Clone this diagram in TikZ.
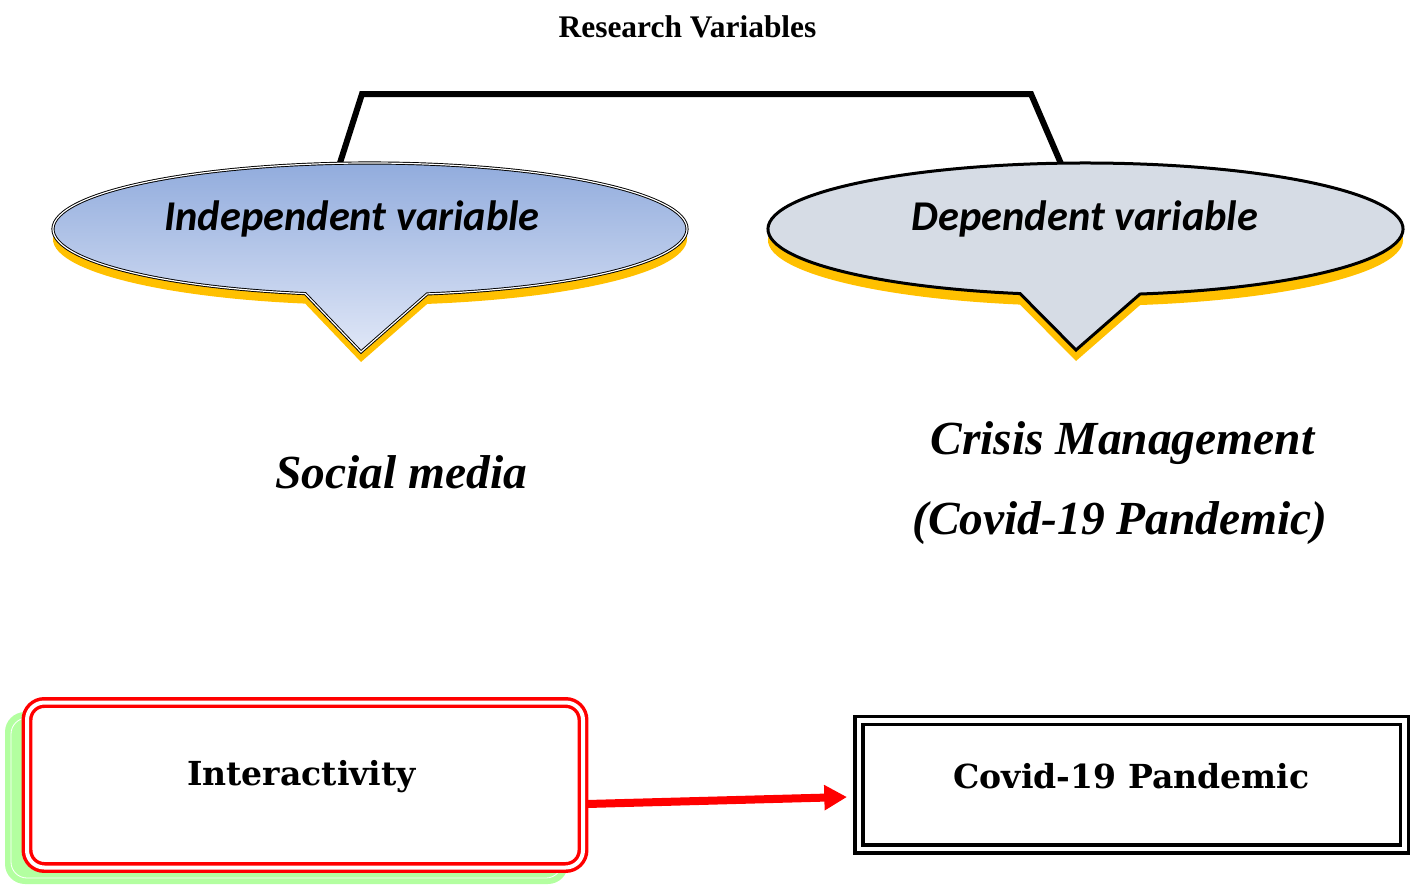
\documentclass[tikz,border=0pt]{standalone}
\usepackage{fontspec}
\setmainfont{Liberation Serif}
\newfontfamily\calfont{Carlito}
\newfontfamily\dvsfont{DejaVu Serif}
\usetikzlibrary{arrows.meta,calc}
\definecolor{goldy}{HTML}{FFC000}
\definecolor{blueTop}{HTML}{8FAADC}
\definecolor{blueBot}{HTML}{E0E7F7}
\definecolor{grayblue}{HTML}{D6DCE5}
\definecolor{lgreen}{HTML}{B3FFA0}
\begin{document}
\begin{tikzpicture}[x=0.75pt,y=-0.75pt,
  bracketline/.style={line width=4.5pt,line join=miter},
  calltext/.style={anchor=base,inner sep=0pt,font=\calfont\bfseries\itshape\fontsize{31.8pt}{36pt}\selectfont},
  midtext/.style={anchor=base,inner sep=0pt,font=\bfseries\itshape\fontsize{35.6pt}{40pt}\selectfont},
  boxtext/.style={anchor=base,inner sep=0pt,font=\dvsfont\bfseries\fontsize{24.8pt}{28pt}\selectfont},
  redbox/.style={draw=red,fill=white,line width=2.6pt,double=white,double distance=3pt,rounded corners=13pt,inner sep=0pt,outer sep=0pt,minimum width=417pt,minimum height=123.75pt},
  blackbox/.style={draw=black,fill=white,line width=2.6pt,double=white,double distance=3.4pt,inner sep=0pt,outer sep=0pt,minimum width=409.1pt,minimum height=96.4pt},
  redarrow/.style={draw=red,line width=6pt,-{Triangle[length=17pt,width=18pt]}}
]
\useasboundingbox (0,0) rectangle (1415,885);

% title
\node[anchor=base,inner sep=0pt,font=\bfseries\fontsize{23.6pt}{28pt}\selectfont] (title) at (687.5,37) {Research Variables};

% bracket
\coordinate (brL) at (339,166);
\coordinate (brLc) at (362,94);
\coordinate (brRc) at (1031,94);
\coordinate (brR) at (1062,166);
\draw[bracketline] (brL) -- (brLc) -- (brRc) -- (brR);

% left callout
\fill[goldy] (370,239) ++(101.8:317 and 66) arc[start angle=101.8,end angle=439.6,x radius=317,y radius=66] -- (361,362) -- cycle;
\draw[top color=blueTop,bottom color=blueBot,draw=black,line width=0.7pt,double=white,double distance=0.9pt]
  (370,229) ++(101.8:317 and 66) arc[start angle=101.8,end angle=439.6,x radius=317,y radius=66] -- (361,352) -- cycle;
\node[calltext] (indep) at (352,230) {Independent variable};

% right callout
\fill[goldy] (1085.5,240) ++(101.9:317.5 and 66) arc[start angle=101.9,end angle=440.1,x radius=317.5,y radius=66] -- (1076,361) -- cycle;
\draw[fill=grayblue,line width=2.25pt,line join=miter]
  (1085.5,229) ++(101.9:317.5 and 66) arc[start angle=101.9,end angle=440.1,x radius=317.5,y radius=66] -- (1076,350) -- cycle;
\node[calltext] (dep) at (1085,230) {Dependent variable};

% middle texts
\node[midtext] (social) at (401,488) {Social media};
\node[midtext] (crisis) at (1122.5,454) {Crisis Management};
\node[midtext] (covidpar) at (1120,534) {(Covid-19 Pandemic)};

% bottom left box with green shadow
\fill[lgreen,rounded corners=15pt] (5,712) rectangle (568,884);
\draw[white,line width=0.6pt,rounded corners=12pt] (11,718) rectangle (562,878);
\node[redbox] (inter) at (305,785) {};
\node[boxtext] (intertext) at (301.5,785) {Interactivity};

% bottom right box
\node[blackbox] (covid) at (1131.5,784.75) {};
\node[boxtext] (covidtext) at (1131.5,788) {Covid-19 Pandemic};

% arrow
\draw[redarrow] ([xshift=3pt,yshift=-14.25pt]inter.east) -- ([xshift=-8.85pt,yshift=-9.2pt]covid.west);
\end{tikzpicture}
\end{document}
